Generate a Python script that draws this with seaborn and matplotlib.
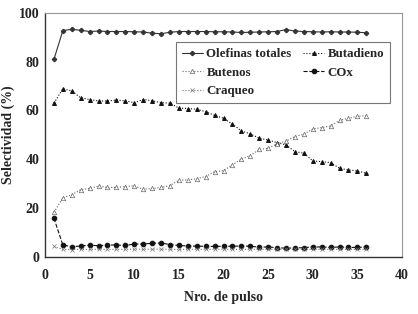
import numpy as np
import pandas as pd
import matplotlib
matplotlib.use("Agg")
import matplotlib.pyplot as plt
import seaborn as sns

pulso = list(range(1, 37))
olefinas = [81.0, 92.8, 93.3, 92.9, 92.4, 92.6, 92.4, 92.4, 92.4, 92.3, 92.2, 91.7, 91.5, 92.1,
            92.4, 92.4, 92.4, 92.4, 92.3, 92.3, 92.2, 92.0, 92.1, 92.2, 92.3, 92.4, 93.2, 92.6,
            92.4, 92.3, 92.2, 92.3, 92.2, 92.2, 92.1, 91.9]
butadieno = [63.0, 68.9, 68.0, 65.2, 64.5, 63.9, 63.9, 64.3, 63.9, 63.2, 64.5, 64.0, 63.2, 63.0,
             61.0, 60.8, 60.5, 59.5, 58.0, 56.8, 54.4, 51.6, 50.4, 48.6, 47.9, 46.8, 45.9, 43.1,
             42.5, 39.3, 39.0, 38.6, 36.3, 35.6, 35.2, 34.2]
butenos = [18.2, 24.2, 25.4, 27.5, 28.0, 29.0, 28.4, 28.4, 28.8, 29.1, 27.7, 28.0, 28.4, 29.2,
           31.4, 31.5, 32.0, 32.9, 34.9, 35.3, 37.7, 40.0, 41.5, 44.0, 44.5, 46.3, 47.4, 49.3,
           50.3, 52.4, 53.0, 53.6, 55.9, 56.8, 57.6, 57.9]
cox = [15.8, 4.8, 4.1, 4.4, 4.7, 4.5, 4.8, 4.8, 4.6, 5.2, 5.2, 5.5, 5.6, 5.0,
       4.6, 4.4, 4.3, 4.3, 4.2, 4.3, 4.3, 4.4, 4.3, 3.9, 4.0, 3.7, 3.5, 3.6,
       3.7, 4.0, 4.0, 3.8, 4.0, 3.8, 3.8, 4.0]
craqueo = [4.2, 3.0, 2.9, 3.0, 3.0, 3.0, 3.0, 3.0, 3.0, 3.1, 3.0, 3.1, 3.1, 3.0,
           3.0, 3.0, 3.0, 3.0, 3.0, 3.0, 3.0, 3.0, 3.0, 3.0, 3.0, 3.0, 3.0, 3.0,
           3.0, 3.0, 3.0, 3.0, 3.0, 3.0, 3.0, 3.0]

series = [
    ("Olefinas totales", olefinas, dict(color="#333333", linestyle="-", marker="P", markersize=3.0, linewidth=0.8)),
    ("Butadieno", butadieno, dict(color="#111111", linestyle=":", marker="^", markersize=2.8, linewidth=0.8)),
    ("Butenos", butenos, dict(color="#666666", linestyle=":", marker="^", markersize=3.2, markerfacecolor="white", markeredgewidth=0.5, linewidth=0.8)),
    ("COx", cox, dict(color="#111111", linestyle="--", marker="o", markersize=3.3, linewidth=0.8)),
    ("Craqueo", craqueo, dict(color="#777777", linestyle=":", marker="x", markersize=2.3, markeredgewidth=0.5, linewidth=0.8)),
]

sns.set_style("white")
plt.rcParams["font.family"] = ["Liberation Serif", "DejaVu Serif"]
plt.rcParams["font.weight"] = "bold"

fig = plt.figure(figsize=(4.18, 3.14), dpi=100)
ax = fig.add_axes([0.1077, 0.1825, 0.8540, 0.7761])

for name, vals, st in series:
    df = pd.DataFrame({"x": pulso, "y": vals})
    sns.lineplot(data=df, x="x", y="y", ax=ax, label=name, markeredgecolor=st["color"], **st)

ax.set_xlim(0, 40)
ax.set_ylim(0, 100)
ax.set_xticks(range(0, 41, 5))
ax.set_yticks(range(0, 101, 20))
ax.tick_params(direction="in", length=3, width=0.6, labelsize=10, colors="#222222")
ax.tick_params(axis="x", pad=9)
ax.tick_params(axis="y", pad=4)
for lab in ax.get_xticklabels() + ax.get_yticklabels():
    lab.set_fontweight("bold")
ax.set_xlabel("Nro. de pulso", fontsize=10, fontweight="bold", labelpad=6)
ax.set_ylabel("Selectividad (%)", fontsize=10, fontweight="bold", labelpad=3)
for side in ["left", "bottom"]:
    ax.spines[side].set_color("#333333")
    ax.spines[side].set_linewidth(1.0)
for side in ["top", "right"]:
    ax.spines[side].set_color("#999999")
    ax.spines[side].set_linewidth(0.8)

h, l = ax.get_legend_handles_labels()
order = [0, 2, 4, 1, 3]
leg = ax.legend([h[i] for i in order], [l[i] for i in order], ncol=2, loc="upper left",
                bbox_to_anchor=(0.367, 0.88), frameon=True, fancybox=False,
                borderaxespad=0.0,
                handlelength=1.6, handletextpad=0.3, columnspacing=0.9,
                labelspacing=0.5, borderpad=0.45,
                prop={"family": ["Liberation Serif"], "weight": "bold", "size": 9.3})
leg.get_frame().set_edgecolor("#555555")
leg.get_frame().set_linewidth(0.8)

fig.savefig("out.png", dpi=100)
